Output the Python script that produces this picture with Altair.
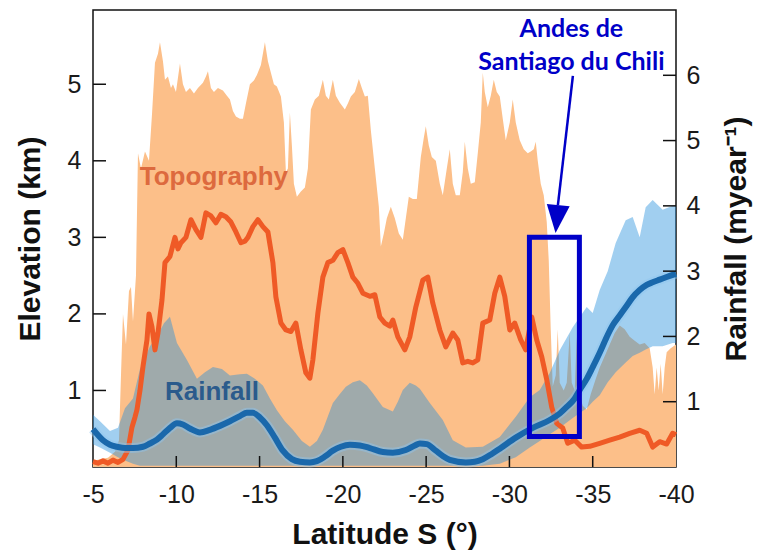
import altair as alt
import pandas as pd

# ---------------- data ----------------
# Topography: maximum elevation envelope (km)
topo_max_lat = [-5.00, -5.42, -5.90, -6.32, -6.56, -6.68, -6.80, -6.98, -7.16, -7.28, -7.40, -7.58,
                -7.70, -7.88, -8.12, -8.36, -8.54, -8.72, -8.90, -9.02, -9.20, -9.32, -9.50, -9.68,
                -9.80, -9.98, -10.22, -10.40, -10.58, -10.82, -11.06, -11.30, -11.60, -11.78, -11.90,
                -12.08, -12.26, -12.50, -12.80, -13.04, -13.22, -13.40, -13.58, -13.82, -14.00, -14.18,
                -14.42, -14.66, -14.84, -15.08, -15.32, -15.50, -15.68, -15.86, -16.04, -16.28, -16.46,
                -16.58, -16.70, -16.82, -16.94, -17.06, -17.24, -17.48, -17.72, -17.90, -18.08, -18.32,
                -18.56, -18.80, -18.98, -19.16, -19.40, -19.58, -19.82, -20.12, -20.30, -20.48, -20.72,
                -20.96, -21.14, -21.32, -21.50, -21.68, -21.92, -22.16, -22.28, -22.46, -22.64, -22.88,
                -23.12, -23.36, -23.60, -23.78, -23.96, -24.20, -24.44, -24.68, -24.86, -24.98, -25.16,
                -25.34, -25.58, -25.82, -26.00, -26.24, -26.42, -26.60, -26.78, -27.02, -27.20, -27.32,
                -27.50, -27.68, -27.92, -28.10, -28.28, -28.40, -28.52, -28.70, -28.88, -29.06, -29.24,
                -29.42, -29.60, -29.78, -30.02, -30.20, -30.38, -30.62, -30.86, -31.10, -31.28, -31.46,
                -31.58, -31.70, -31.88, -32.06, -32.24, -32.36, -32.48, -32.60, -32.78, -32.90, -33.02,
                -33.26, -33.44, -33.62, -33.74, -33.92, -34.04, -34.16, -34.40, -34.64, -34.88, -35.18,
                -35.42, -35.72, -36.02, -36.32, -36.62, -36.92, -37.22, -37.52, -37.82, -38.12, -38.42,
                -38.60, -38.72, -38.84, -38.96, -39.08, -39.20, -39.32, -39.44, -39.68, -40.00]
topo_max_km = [0.08, 0.10, 0.12, 0.20, 0.35, 1.20, 2.00, 1.60, 2.30, 2.35, 1.90, 2.50,
               4.10, 3.90, 4.12, 4.00, 4.60, 5.28, 5.40, 5.55, 5.30, 5.06, 5.10, 4.95,
               5.00, 4.90, 5.27, 5.00, 4.90, 4.95, 4.88, 4.95, 5.02, 5.10, 5.17,
               4.95, 4.90, 4.95, 4.92, 4.85, 4.80, 4.65, 4.58, 4.55, 4.55, 4.75,
               5.00, 5.05, 5.12, 5.25, 5.55, 5.30, 5.15, 5.00, 4.97, 4.84, 4.50,
               3.85, 3.90, 4.63, 4.20, 3.70, 3.53, 3.60, 3.65, 3.90, 4.67, 4.80,
               4.85, 5.06, 4.85, 4.80, 5.06, 4.85, 4.76, 4.67, 4.75, 4.84, 4.90,
               5.07, 4.95, 4.84, 4.85, 4.40, 3.90, 3.40, 2.88, 3.05, 3.25, 3.40,
               3.25, 3.05, 2.97, 3.25, 3.53, 3.50, 3.50, 4.05, 4.30, 4.45, 4.20,
               4.05, 4.00, 3.70, 3.55, 3.90, 4.15, 3.70, 3.55, 3.55, 3.85, 4.25,
               3.90, 3.70, 3.72, 4.10, 4.50, 5.15, 4.90, 4.70, 4.85, 5.06, 4.90,
               4.84, 4.55, 4.27, 4.50, 4.80, 4.50, 4.27, 4.15, 4.10, 4.12, 4.15,
               4.25, 4.00, 3.70, 3.55, 3.20, 2.70, 1.80, 1.05, 1.20, 1.80, 1.10,
               1.00, 1.10, 1.75, 1.10, 1.00, 1.70, 1.00, 0.80, 0.75, 0.95, 1.15,
               1.30, 1.45, 1.60, 1.75, 1.85, 1.80, 1.70, 1.65, 1.60, 1.62, 1.55,
               1.30, 0.95, 1.30, 1.00, 1.35, 0.95, 1.30, 1.50, 1.55, 1.60]

# Topography: mean elevation (km)
topo_mean_lat = [-5.00, -5.30, -5.60, -5.90, -6.20, -6.50, -6.80, -7.10, -7.34, -7.52, -7.64, -7.82,
                 -8.00, -8.24, -8.36, -8.54, -8.72, -8.90, -9.14, -9.32, -9.62, -9.92, -10.10, -10.28,
                 -10.58, -10.88, -11.18, -11.48, -11.78, -12.08, -12.38, -12.68, -12.98, -13.28, -13.58,
                 -13.88, -14.12, -14.30, -14.60, -14.90, -15.20, -15.50, -15.80, -15.98, -16.28, -16.58,
                 -16.88, -17.18, -17.48, -17.78, -18.02, -18.20, -18.50, -18.80, -19.10, -19.40, -19.70,
                 -20.00, -20.30, -20.60, -20.90, -21.20, -21.62, -21.92, -22.22, -22.52, -22.82, -23.00,
                 -23.30, -23.72, -24.02, -24.38, -24.80, -25.10, -25.40, -25.82, -26.18, -26.60, -26.90,
                 -27.20, -27.50, -27.80, -28.10, -28.40, -28.82, -29.12, -29.42, -29.72, -30.02, -30.32,
                 -30.68, -30.98, -31.34, -31.64, -31.94, -32.24, -32.54, -32.84, -33.20, -33.50, -33.92,
                 -34.34, -34.82, -35.42, -36.02, -36.62, -37.22, -37.82, -38.24, -38.60, -39.02, -39.44,
                 -39.80, -40.00]
topo_mean_km = [0.07, 0.05, 0.08, 0.05, 0.09, 0.06, 0.10, 0.22, 0.52, 0.65, 0.75, 1.00,
                1.31, 1.66, 2.00, 1.83, 1.53, 1.75, 2.18, 2.67, 2.75, 3.00, 2.85, 2.93,
                3.00, 3.23, 3.10, 3.00, 3.32, 3.28, 3.19, 3.30, 3.27, 3.20, 3.07,
                2.93, 2.95, 3.00, 3.14, 3.23, 3.14, 3.07, 2.67, 2.22, 1.88, 1.79,
                1.77, 1.88, 1.53, 1.23, 1.16, 1.40, 2.01, 2.48, 2.67, 2.70, 2.80,
                2.84, 2.67, 2.48, 2.40, 2.27, 2.23, 2.25, 1.96, 1.88, 1.84, 1.92,
                1.70, 1.53, 1.70, 2.09, 2.44, 2.48, 2.14, 1.79, 1.57, 1.75, 1.66,
                1.36, 1.38, 1.36, 1.40, 1.88, 1.92, 2.27, 2.48, 2.23, 1.79, 1.88,
                1.66, 1.53, 1.96, 1.66, 1.44, 1.14, 0.78, 0.57, 0.51, 0.31, 0.35,
                0.26, 0.27, 0.31, 0.35, 0.39, 0.44, 0.48, 0.44, 0.26, 0.33, 0.30,
                0.44, 0.42]

# Rainfall: min-max band (m/year)
rain_band_lat = [-5.00, -5.42, -6.02, -6.50, -6.92, -7.40, -7.82, -8.42, -8.84, -9.26, -9.62, -10.04,
                 -10.64, -11.24, -11.72, -12.20, -12.74, -13.22, -13.82, -14.24, -14.72, -15.20, -15.62,
                 -16.04, -16.52, -17.00, -17.54, -18.02, -18.44, -18.80, -19.40, -19.82, -20.18, -20.60,
                 -21.02, -21.44, -21.80, -22.40, -23.00, -23.30, -23.60, -24.02, -24.38, -24.62, -25.22,
                 -26.00, -26.60, -27.38, -28.40, -29.42, -30.38, -31.22, -31.82, -32.42, -33.02, -33.80,
                 -34.64, -35.00, -35.42, -35.90, -36.38, -36.98, -37.40, -37.82, -38.18, -38.60, -39.20,
                 -39.80, -40.00]
rain_min = [0.35, 0.30, 0.22, 0.15, 0.10, 0.05, 0.02, 0.02, 0.02, 0.02, 0.02, 0.02,
            0.02, 0.02, 0.02, 0.02, 0.02, 0.02, 0.02, 0.02, 0.02, 0.02, 0.02,
            0.02, 0.02, 0.02, 0.02, 0.02, 0.02, 0.02, 0.02, 0.02, 0.02, 0.02,
            0.02, 0.02, 0.02, 0.02, 0.02, 0.02, 0.02, 0.02, 0.02, 0.02, 0.02,
            0.02, 0.02, 0.02, 0.02, 0.05, 0.15, 0.30, 0.40, 0.50, 0.60, 0.75,
            0.90, 1.00, 1.10, 1.30, 1.45, 1.60, 1.70, 1.75, 1.80, 1.85, 1.85,
            1.90, 1.90]
rain_max = [0.80, 0.70, 0.55, 0.60, 0.90, 1.05, 1.50, 1.85, 2.00, 2.20, 2.30, 1.90,
            1.64, 1.35, 1.45, 1.53, 1.50, 1.40, 1.42, 1.43, 1.35, 1.25, 1.05,
            0.87, 0.70, 0.57, 0.40, 0.31, 0.40, 0.57, 0.98, 1.12, 1.23, 1.30,
            1.33, 1.25, 1.13, 0.92, 0.85, 1.00, 1.18, 1.29, 1.25, 1.20, 0.98,
            0.72, 0.41, 0.30, 0.31, 0.46, 0.77, 1.07, 1.18, 1.44, 1.79, 2.14,
            2.45, 2.36, 2.71, 3.00, 3.43, 3.78, 3.83, 3.52, 3.98, 4.09, 3.94,
            4.00, 4.00]

# Rainfall: mean (m/year)
rain_mean_lat = [-5.00, -5.60, -6.02, -6.44, -6.92, -7.40, -8.00, -8.42, -8.84, -9.20, -9.62, -10.04,
                 -10.40, -10.82, -11.42, -12.02, -12.62, -13.22, -13.82, -14.24, -14.60, -15.02, -15.44,
                 -15.92, -16.40, -16.94, -17.42, -18.02, -18.44, -18.92, -19.40, -19.88, -20.42, -21.02,
                 -21.62, -22.40, -23.00, -23.78, -24.32, -24.62, -25.04, -25.58, -26.00, -26.42, -27.38,
                 -27.92, -28.40, -28.94, -29.42, -30.38, -31.40, -32.42, -33.02, -33.44, -33.92, -34.22,
                 -34.64, -35.00, -35.42, -35.84, -36.20, -36.62, -37.04, -37.40, -37.82, -38.24, -38.60,
                 -39.02, -39.44, -40.00]
rain_mean = [0.58, 0.41, 0.34, 0.31, 0.29, 0.29, 0.31, 0.36, 0.42, 0.50, 0.60, 0.67,
             0.65, 0.59, 0.53, 0.57, 0.63, 0.70, 0.78, 0.83, 0.83, 0.76, 0.64,
             0.45, 0.25, 0.12, 0.08, 0.07, 0.09, 0.16, 0.25, 0.31, 0.34, 0.33,
             0.29, 0.23, 0.22, 0.26, 0.33, 0.36, 0.35, 0.25, 0.17, 0.11, 0.07,
             0.08, 0.12, 0.20, 0.28, 0.45, 0.60, 0.72, 0.82, 0.92, 1.05, 1.18,
             1.35, 1.53, 1.75, 1.99, 2.17, 2.32, 2.47, 2.60, 2.71, 2.79, 2.83,
             2.87, 2.91, 2.96]

# Ticks and labels
x_ticks = [-5, -10, -15, -20, -25, -30, -35, -40]
x_inner_ticks = [-10, -15, -20, -25, -30, -35]
elev_ticks = [1, 2, 3, 4, 5]
rain_ticks = [1, 2, 3, 4, 5, 6]

# In-plot labels (lat, elevation km)
series_labels = ["Topography", "Rainfall"]
series_label_lat = [-12.26, -12.14]
series_label_km = [3.69, 0.876]
series_label_color = ["#dd6a3e", "#2b5b8c"]

# Annotation
annot_lines = ["Andes de", "Santiago du Chili"]
annot_lat = [-33.72, -33.72]
annot_km = [5.62, 5.19]
box_lat = [-31.2, -34.2]
box_km = [3.0, 0.40]
arrow_lat = [-33.81, -32.91]
arrow_km = [5.11, 3.42]
arrow_head_lat = [-32.85]
arrow_head_km = [3.24]

# ---------------- chart ----------------
W, H = 583, 457
ELEV_DOM = [0, 5.97]
RAIN_DOM = [0, 7]
FONT = "Liberation Sans"
ANN = "#0000c8"

x_scale = alt.Scale(domain=[-40, -5], reverse=True, nice=False, zero=False)
x_axis = alt.Axis(values=x_ticks, tickSize=0, domain=False, grid=False, labelFlush=False,
                  labelExpr="'-' + abs(datum.value)", labelFont=FONT, labelFontSize=25,
                  labelColor="#1a1a1a", labelPadding=15, labelOverlap=False,
                  title="Latitude S (°)", titleFont=FONT, titleFontSize=30, titleFontWeight="bold",
                  titleColor="#111111", titlePadding=12)


def X(field="lat"):
    return alt.X(f"{field}:Q", scale=x_scale, axis=x_axis)


elev_scale = alt.Scale(domain=ELEV_DOM, nice=False, zero=False)
rain_scale = alt.Scale(domain=RAIN_DOM, nice=False, zero=False)

elev_axis = alt.Axis(orient="left", values=elev_ticks, tickSize=0, domain=False, grid=False,
                     labelFont=FONT, labelFontSize=25, labelColor="#1a1a1a", labelPadding=12,
                     title="Elevation (km)", titleFont=FONT, titleFontSize=30,
                     titleFontWeight="bold", titleColor="#111111", titlePadding=22)
rain_axis = alt.Axis(orient="right", values=rain_ticks, tickSize=0, domain=False, grid=False,
                     labelFont=FONT, labelFontSize=25, labelColor="#1a1a1a", labelPadding=10,
                     title="Rainfall (myear⁻¹)", titleFont=FONT, titleFontSize=30,
                     titleFontWeight="bold", titleColor="#111111", titlePadding=22,
                     titleAngle=270, titleBaseline="top")


def YE(field, axis=None):
    if axis is None:
        return alt.Y(f"{field}:Q", scale=elev_scale, axis=None)
    return alt.Y(f"{field}:Q", scale=elev_scale, axis=axis)


def YR(field, axis=None):
    if axis is None:
        return alt.Y(f"{field}:Q", scale=rain_scale, axis=None)
    return alt.Y(f"{field}:Q", scale=rain_scale, axis=axis)


topo_max_df = pd.DataFrame({"lat": topo_max_lat, "km": topo_max_km})
topo_mean_df = pd.DataFrame({"lat": topo_mean_lat, "km": topo_mean_km})
band_df = pd.DataFrame({"lat": rain_band_lat, "rmin": rain_min, "rmax": rain_max})
rain_df = pd.DataFrame({"lat": rain_mean_lat, "r": rain_mean})

topo_area = alt.Chart(topo_max_df).mark_area(color="#fcbf89", opacity=1, interpolate="linear").encode(
    x=X(), y=YE("km", elev_axis), y2=alt.datum(0))

band = alt.Chart(band_df).mark_area(color="#1e8cdc", opacity=0.42, interpolate="linear").encode(
    x=X(), y=YR("rmax", rain_axis), y2="rmin:Q")

topo_line = alt.Chart(topo_mean_df).mark_line(color="#ef5a26", strokeWidth=5, strokeJoin="round").encode(
    x=X(), y=YE("km"))

rain_glow = alt.Chart(rain_df).mark_line(color="#8fc6ef", strokeWidth=10, opacity=0.45,
                                         interpolate="monotone").encode(x=X(), y=YR("r"))
rain_line = alt.Chart(rain_df).mark_line(color="#1a68ab", strokeWidth=6,
                                         interpolate="monotone").encode(x=X(), y=YR("r"))

lab_df = pd.DataFrame({"lat": series_label_lat, "km": series_label_km, "t": series_labels,
                       "c": series_label_color})
labels = alt.Chart(lab_df).mark_text(font=FONT, fontSize=26, fontWeight="bold", align="center",
                                     baseline="alphabetic").encode(
    x=X(), y=YE("km"), text="t:N", color=alt.Color("c:N", scale=None, legend=None))

box_df = pd.DataFrame({"lat": [box_lat[0]], "lat2": [box_lat[1]], "km": [box_km[0]], "km2": [box_km[1]]})
box = alt.Chart(box_df).mark_rect(fillOpacity=0, stroke=ANN, strokeWidth=5).encode(
    x=X(), x2="lat2:Q", y=YE("km"), y2="km2:Q")

arrow_df = pd.DataFrame({"lat": arrow_lat, "km": arrow_km})
arrow = alt.Chart(arrow_df).mark_line(color=ANN, strokeWidth=2.5).encode(x=X(), y=YE("km"))
head_df = pd.DataFrame({"lat": arrow_head_lat, "km": arrow_head_km})
head = alt.Chart(head_df).mark_point(shape="M-0.82,-1L0.82,-1L0,1Z", filled=True, size=784,
                                     angle=5.5, color=ANN, opacity=1, strokeWidth=0).encode(
    x=X(), y=YE("km"))

ann_df = pd.DataFrame({"lat": annot_lat, "km": annot_km, "t": annot_lines})
ann = alt.Chart(ann_df).mark_text(font="Lato", fontSize=25, fontWeight="bold", color=ANN,
                                  align="center", baseline="alphabetic").encode(
    x=X(), y=YE("km"), text="t:N")

xt = alt.Chart(pd.DataFrame({"lat": x_inner_ticks})).mark_rule(color="#111111", strokeWidth=1.5).encode(
    x=X(), y=alt.value(H), y2=alt.value(H - 11))
lt = alt.Chart(pd.DataFrame({"km": elev_ticks})).mark_rule(color="#111111", strokeWidth=1.5).encode(
    y=YE("km"), x=alt.value(0), x2=alt.value(13))
rt = alt.Chart(pd.DataFrame({"r": rain_ticks})).mark_rule(color="#111111", strokeWidth=1.5).encode(
    y=YR("r"), x=alt.value(W - 13), x2=alt.value(W))

chart = alt.layer(
    topo_area, band, topo_line, rain_glow, rain_line, labels, box, arrow, head, ann, xt, lt, rt
).resolve_scale(y="independent").properties(
    width=W, height=H,
    padding={"left": 85, "top": 2, "right": 80, "bottom": 88},
    autosize=alt.AutoSizeParams(type="none"),
).configure_view(stroke="#111111", strokeWidth=1.5)

chart.save("out.html", embed_options={"renderer": "svg", "actions": False})
